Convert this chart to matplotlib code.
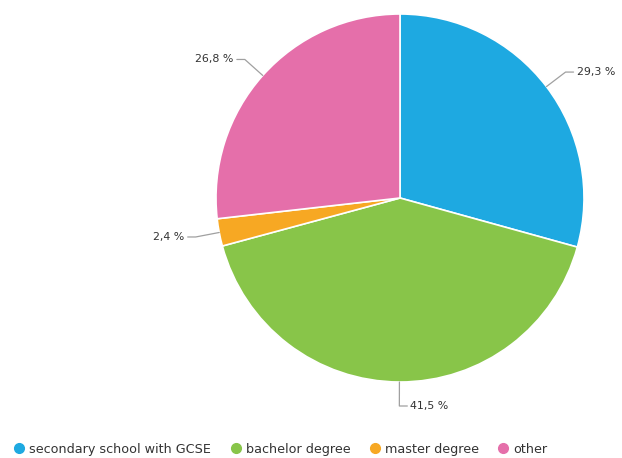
import matplotlib
matplotlib.use("Agg")
import matplotlib.pyplot as plt
import numpy as np
from matplotlib.lines import Line2D

# Shares of respondents by highest education level
categories = ["secondary school with GCSE", "bachelor degree", "master degree", "other"]
shares = [29.3, 41.5, 2.4, 26.8]
colors = ["#1EA9E1", "#88C549", "#F7A823", "#E56FAA"]

W, H = 622, 458
cx, cy, radius = 400, H - 198, 184

fig = plt.figure(figsize=(W / 100, H / 100), dpi=100)
ax = fig.add_axes([0, 0, 1, 1])

wedges, _ = ax.pie(shares, colors=colors, startangle=90, counterclock=False,
                   center=(cx, cy), radius=radius, frame=False,
                   wedgeprops=dict(edgecolor="white", linewidth=1.2))
ax.set_xlim(0, W)
ax.set_ylim(0, H)
ax.set_aspect("equal")
ax.axis("off")

# Value labels with elbow connectors outside each slice
for w, val in zip(wedges, shares):
    mid = np.deg2rad((w.theta1 + w.theta2) / 2)
    c, s = np.cos(mid), np.sin(mid)
    x0, y0 = cx + radius * c, cy + radius * s
    xe, ye = cx + (radius + 24) * c, cy + (radius + 24) * s
    right = c >= -0.05
    sign = 1 if right else -1
    xt = xe + sign * 11
    ax.plot([x0, xe, xt - sign * 3], [y0, ye, ye], color="#A0A0A0", lw=0.9,
            solid_capstyle="round", solid_joinstyle="round")
    label = f"{val:.1f}".replace(".", ",") + " %"
    ax.text(xt, ye, label, ha="left" if right else "right", va="center",
            fontsize=7.9, color="#333333")

handles = [Line2D([], [], marker="o", linestyle="", markersize=7,
                  markerfacecolor=col, markeredgecolor=col) for col in colors]
fig.legend(handles, categories, loc="lower left", bbox_to_anchor=(0.0, -0.02),
           ncol=4, frameon=False, fontsize=9.2, labelcolor="#333333",
           handletextpad=0.2, columnspacing=1.3, handlelength=1.2)

fig.savefig("out.png", dpi=100)
